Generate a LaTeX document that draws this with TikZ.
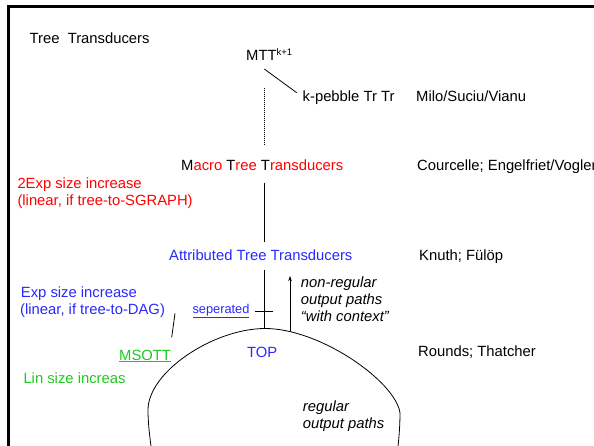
\documentclass[tikz,border=0pt]{standalone}
\usepackage{fontspec}
\setmainfont{Liberation Sans}
\usetikzlibrary{arrows.meta}
\definecolor{tblue}{RGB}{40,40,255}
\definecolor{tgreen}{RGB}{30,200,30}
\definecolor{tred}{RGB}{255,0,0}
\begin{document}
\begin{tikzpicture}[x=1pt,y=-1pt,
  txt/.style={anchor=base west, inner sep=0pt, font=\fontsize{14.8}{17}\selectfont},
  itxt/.style={txt, font=\fontsize{14.8}{17}\selectfont\itshape},
  stxt/.style={txt, font=\fontsize{12.8}{15}\selectfont},
  ln/.style={line width=0.8pt, black},
  dotln/.style={line width=0.6pt, dash pattern=on 1pt off 1pt},
  tip/.style={-{Stealth[length=5pt,width=3.5pt]}}]
\useasboundingbox (0,0) rectangle (594,445);
\clip (0,0) rectangle (594,445);
% frame
\draw[line width=3pt] (8.3,600) -- (8.3,6) -- (700,6);
% texts
\node[txt] (title) at (29.5,43.5) {Tree~~Transducers};
\node[txt] (mtt) at (246,60.5) {MTT\raisebox{5pt}{\fontsize{9.5}{10}\selectfont k+1}};
\node[txt] (peb) at (302.5,101) {k-pebble Tr Tr};
\node[txt] (milo) at (416,101) {Milo/Suciu/Vianu};
\node[txt, text=tred] (macro) at (181,170.7) {\textcolor{black}{M}acro \textcolor{black}{T}ree \textcolor{black}{T}ransducers};
\node[txt] (cour) at (417,170.7) {Courcelle; Engelfriet/Vogler};
\node[txt, text=tred] (twoexpa) at (17.3,188) {2Exp size increase};
\node[txt, text=tred] (twoexpb) at (17.3,205) {(linear, if tree-to-SGRAPH)};
\node[txt, text=tblue] (attr) at (169,260.7) {Attributed Tree Transducers};
\node[txt] (knuth) at (419,260.7) {Knuth; Fülöp};
\node[txt, text=tblue] (expa) at (20.7,297.3) {Exp size increase};
\node[txt, text=tblue] (expb) at (20,314.3) {(linear, if tree-to-DAG)};
\node[stxt, text=tblue] (sep) at (192.3,313) {\underline{seperated}};
\node[itxt] (nra) at (300.7,287.7) {non-regular};
\node[itxt] (nrb) at (300.7,304.5) {output paths};
\node[itxt] (nrc) at (300.7,321.5) {“with context”};
\node[txt, text=tgreen] (msott) at (119,360) {\underline{MSOTT}};
\node[txt, text=tblue] (top) at (247,357.5) {TOP};
\node[txt] (rounds) at (418,356.7) {Rounds; Thatcher};
\node[txt, text=tgreen] (lin) at (23.3,383.7) {Lin size increas};
\node[itxt] (rga) at (302.7,411.7) {regular};
\node[itxt] (rgb) at (302.7,428.3) {output paths};
% coordinates
\coordinate (d1) at (264.3,87.7);
\coordinate (d2) at (264.3,145.7);
\coordinate (g1) at (264.3,69);
\coordinate (g2) at (296.7,92.7);
\coordinate (m1) at (264.3,182.7);
\coordinate (m2) at (264.3,241.7);
\coordinate (a1) at (264.3,270);
\coordinate (a2) at (264.3,328.6);
\coordinate (r1) at (290,331);
\coordinate (r2) at (290,276);
\coordinate (t1) at (255,311);
\coordinate (t2) at (273,311);
\coordinate (s1) at (175,313.3);
\coordinate (s2) at (171.7,337.3);
\coordinate (cb1) at (151,446);
\coordinate (cl) at (148,410);
\coordinate (ctop) at (264.3,328.5);
\coordinate (cr) at (400,413);
\coordinate (cb2) at (398,446);
% lines
\draw[dotln] (d1) -- (d2);
\draw[ln] (g1) -- (g2);
\draw[ln] (m1) -- (m2);
\draw[ln] (a1) -- (a2);
\draw[ln, tip] (r1) -- (r2);
\draw[ln] (t1) -- (t2);
\draw[ln] (s1) -- (s2);
\draw[ln] (cb1) .. controls (149.5,435) and (148,422) .. (cl)
  .. controls (148,372) and (213,329) .. (ctop)
  .. controls (320,328) and (396,382) .. (cr)
  .. controls (400,425) and (399,438) .. (cb2);
\end{tikzpicture}
\end{document}
